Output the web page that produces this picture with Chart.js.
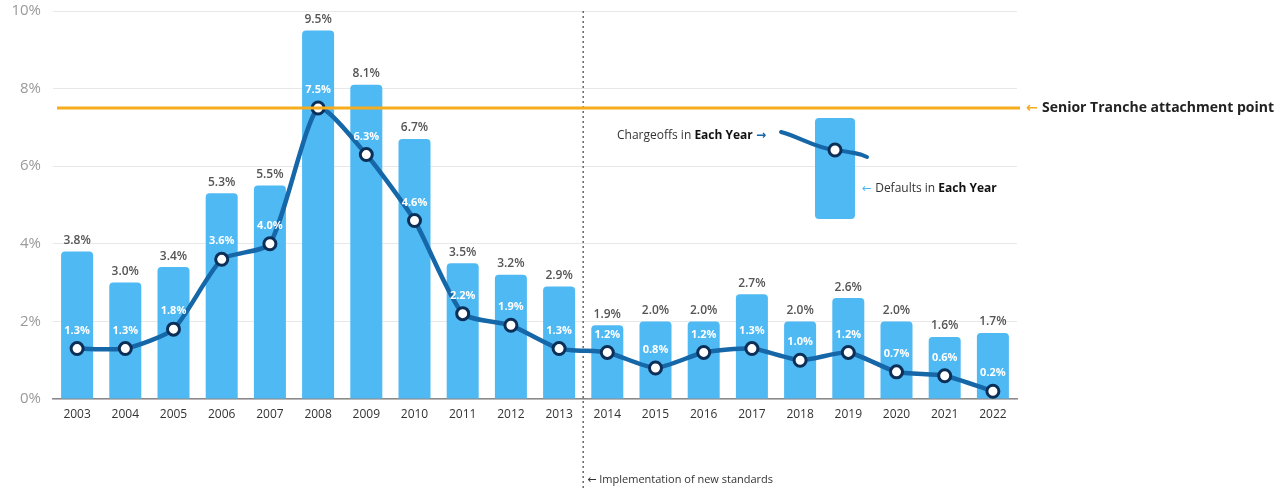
<!DOCTYPE html>
<html>
<head>
<meta charset="utf-8">
<script src="https://cdn.jsdelivr.net/npm/chart.js@4"></script>
<style>
  html, body { margin: 0; padding: 0; background: #fff; }
  #wrap { width: 1284px; height: 488px; position: relative; }
</style>
</head>
<body>
<div id="wrap"><canvas id="chart"></canvas></div>
<script>
// values
const years = ["2003","2004","2005","2006","2007","2008","2009","2010","2011","2012",
               "2013","2014","2015","2016","2017","2018","2019","2020","2021","2022"];
const defaults = [3.8, 3.0, 3.4, 5.3, 5.5, 9.5, 8.1, 6.7, 3.5, 3.2,
                  2.9, 1.9, 2.0, 2.0, 2.7, 2.0, 2.6, 2.0, 1.6, 1.7];
const chargeoffs = [1.3, 1.3, 1.8, 3.6, 4.0, 7.5, 6.3, 4.6, 2.2, 1.9,
                    1.3, 1.2, 0.8, 1.2, 1.3, 1.0, 1.2, 0.7, 0.6, 0.2];
const seniorTranche = 7.5;
const standardsYearIndex = 11; // 2014

const FONT = "'Open Sans', 'DejaVu Sans', sans-serif";
const BAR_COLOR = "#4fb9f4";
const LINE_COLOR = "#1667a8";
const POINT_BORDER = "#0c2f57";

// value labels, tranche line, standards divider and the little key
const extras = {
  id: 'extras',
  beforeDatasetsDraw(chart) {
    const ctx = chart.ctx;
    const area = chart.chartArea;
    const x = chart.scales.x;

    // dotted divider
    const dx = (x.getPixelForValue(standardsYearIndex - 1) + x.getPixelForValue(standardsYearIndex)) / 2;
    ctx.save();
    ctx.strokeStyle = "#666";
    ctx.lineWidth = 1.5;
    ctx.setLineDash([2, 3]);
    ctx.beginPath();
    ctx.moveTo(dx, area.top);
    ctx.lineTo(dx, chart.height);
    ctx.stroke();
    ctx.restore();

    ctx.save();
    ctx.fillStyle = "#333";
    ctx.font = "11px " + FONT;
    ctx.textBaseline = "middle";
    ctx.fillText("\u2190 Implementation of new standards", dx + 4, 480);
    ctx.restore();
  },
  afterDatasetsDraw(chart) {
    const ctx = chart.ctx;
    const area = chart.chartArea;
    const y = chart.scales.y;

    // orange tranche line
    const ty = y.getPixelForValue(seniorTranche);
    ctx.save();
    ctx.strokeStyle = "#f5ac1d";
    ctx.lineWidth = 3;
    ctx.beginPath();
    ctx.moveTo(area.left + 4, ty);
    ctx.lineTo(area.right + 3, ty);
    ctx.stroke();
    ctx.fillStyle = "#f5ac1d";
    ctx.font = "bold 14px " + FONT;
    ctx.textBaseline = "middle";
    ctx.fillText("\u2190", area.right + 9, ty);
    ctx.fillStyle = "#222";
    ctx.fillText("Senior Tranche attachment point", area.right + 25, ty);
    ctx.restore();

    // bar labels
    const barMeta = chart.getDatasetMeta(0);
    ctx.save();
    ctx.font = "600 12px " + FONT;
    ctx.fillStyle = "#555";
    ctx.textAlign = "center";
    ctx.textBaseline = "middle";
    barMeta.data.forEach((bar, i) => {
      ctx.fillText(defaults[i].toFixed(1) + "%", bar.x, bar.y - 11);
    });
    ctx.restore();

    // line labels
    const lineMeta = chart.getDatasetMeta(1);
    ctx.save();
    ctx.font = "bold 11px " + FONT;
    ctx.fillStyle = "#fff";
    ctx.textAlign = "center";
    ctx.textBaseline = "middle";
    lineMeta.data.forEach((pt, i) => {
      ctx.fillText(chargeoffs[i].toFixed(1) + "%", pt.x, pt.y - 18);
    });
    ctx.restore();

    // key
    ctx.save();
    ctx.fillStyle = BAR_COLOR;
    ctx.beginPath();
    ctx.roundRect(815, 118, 40, 101, 4);
    ctx.fill();
    ctx.strokeStyle = LINE_COLOR;
    ctx.lineWidth = 4;
    ctx.lineCap = "round";
    ctx.beginPath();
    ctx.moveTo(781, 132);
    ctx.bezierCurveTo(800, 137, 815, 148, 835, 150);
    ctx.bezierCurveTo(850, 152, 858, 153, 867, 157);
    ctx.stroke();
    ctx.beginPath();
    ctx.arc(835, 150, 6, 0, Math.PI * 2);
    ctx.fillStyle = "#fff";
    ctx.fill();
    ctx.lineWidth = 3;
    ctx.strokeStyle = POINT_BORDER;
    ctx.stroke();

    ctx.textBaseline = "middle";
    ctx.font = "12px " + FONT;
    let tx = 617;
    ctx.fillStyle = "#333";
    ctx.fillText("Chargeoffs in ", tx, 136);
    tx += ctx.measureText("Chargeoffs in ").width;
    ctx.font = "bold 12px " + FONT;
    ctx.fillStyle = "#111";
    ctx.fillText("Each Year", tx, 136);
    tx += ctx.measureText("Each Year ").width;
    ctx.fillStyle = LINE_COLOR;
    ctx.fillText("\u2192", tx, 136);

    tx = 862;
    ctx.fillStyle = "#4fb9f4";
    ctx.font = "12px " + FONT;
    ctx.fillText("\u2190", tx, 189);
    tx += ctx.measureText("\u2190 ").width;
    ctx.fillStyle = "#333";
    ctx.fillText("Defaults in ", tx, 189);
    tx += ctx.measureText("Defaults in ").width;
    ctx.font = "bold 12px " + FONT;
    ctx.fillStyle = "#111";
    ctx.fillText("Each Year", tx, 189);
    ctx.restore();
  }
};

new Chart(document.getElementById('chart'), {
  type: 'bar',
  data: {
    labels: years,
    datasets: [
      {
        type: 'bar',
        label: 'Defaults in Each Year',
        data: defaults,
        backgroundColor: BAR_COLOR,
        borderRadius: 4,
        barPercentage: 0.8,
        categoryPercentage: 0.83,
        order: 2
      },
      {
        type: 'line',
        label: 'Chargeoffs in Each Year',
        data: chargeoffs,
        borderColor: LINE_COLOR,
        borderWidth: 4.5,
        tension: 0.2,
        pointRadius: 6,
        pointBorderWidth: 3,
        pointBackgroundColor: '#fff',
        pointBorderColor: POINT_BORDER,
        order: 1
      }
    ]
  },
  options: {
    responsive: true,
    maintainAspectRatio: false,
    animation: false,
    layout: { padding: { top: 11, right: 267, bottom: 64, left: 0 } },
    plugins: {
      legend: { display: false },
      tooltip: { enabled: false }
    },
    scales: {
      x: {
        grid: { display: false },
        border: { color: '#8a8a8a', width: 1.5 },
        ticks: { color: '#333', font: { family: FONT, size: 12 }, padding: 0 },
        afterFit(scale) { scale.height = 25; }
      },
      y: {
        min: 0,
        max: 10,
        ticks: {
          stepSize: 2,
          color: '#9a9a9a',
          font: { family: FONT, size: 15 },
          padding: 12,
          callback: v => v + '%'
        },
        grid: { color: '#e8e8e8', drawTicks: false },
        border: { display: false },
        afterFit(scale) { scale.width = 53; scale.paddingTop = 0; scale.paddingBottom = 0; }
      }
    }
  },
  plugins: [extras]
});
</script>
</body>
</html>
